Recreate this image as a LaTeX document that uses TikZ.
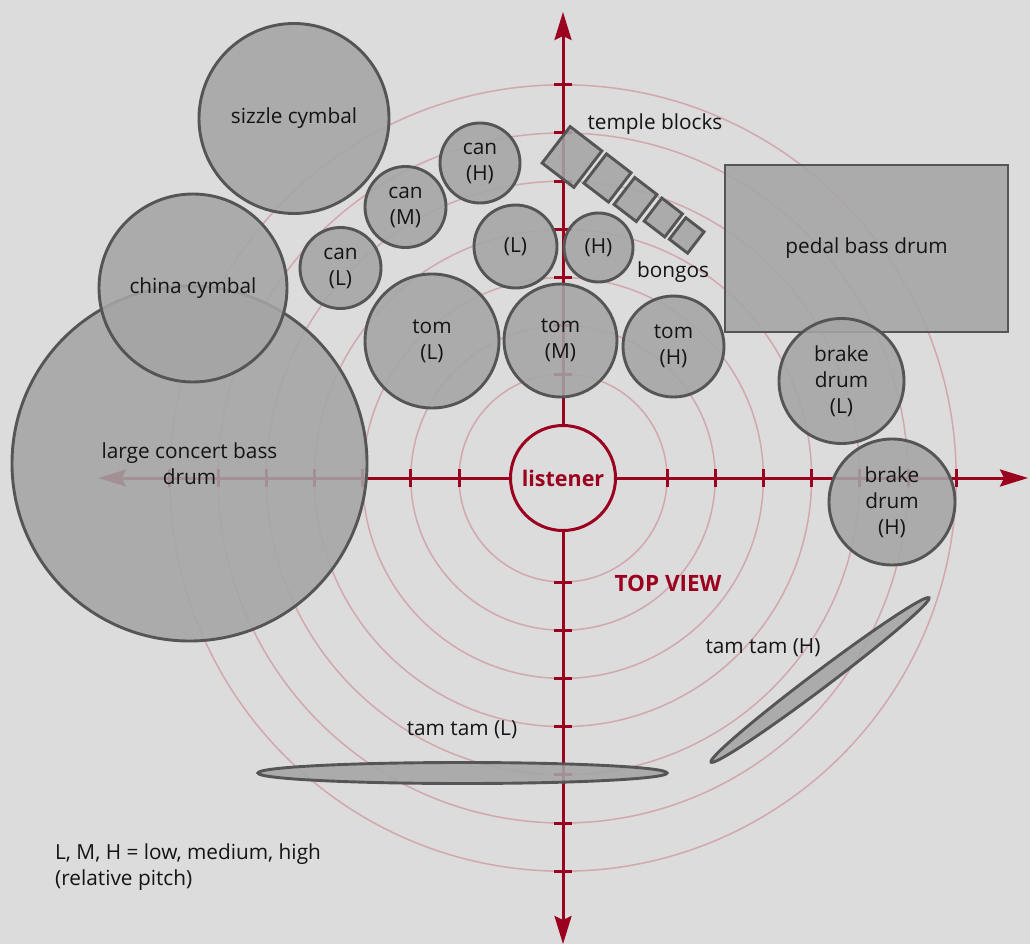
\documentclass[tikz,border=0pt]{standalone}
\usepackage{fontspec}
\setmainfont{Open Sans}
\usetikzlibrary{arrows.meta,shapes.geometric}
\definecolor{bg}{RGB}{220,220,220}
\definecolor{axred}{RGB}{155,0,30}
\definecolor{ringc}{RGB}{208,168,174}
\definecolor{drumfill}{RGB}{165,165,165}
\definecolor{drumline}{RGB}{85,85,85}
\definecolor{txt}{RGB}{20,20,20}
\begin{document}
\begin{tikzpicture}[x=1pt,y=-1pt,
  lbl/.style={text=txt, align=center, inner sep=0pt, font=\fontsize{20.8}{26}\selectfont},
  drum/.style={lbl, draw=drumline, line width=2.9pt, fill=drumfill, fill opacity=0.88, text opacity=1},
  drumc/.style={drum, circle, minimum size=#1},
  block/.style={drum, rectangle, rotate=-37.5},
  ring/.style={draw=ringc, line width=1.5pt},
  axis/.style={draw=axred, line width=3pt, -{Stealth[length=28pt,width=17pt,inset=4pt]}},
  tickmark/.style={draw=axred, line width=3pt},
  listen/.style={circle, draw=axred, line width=3pt, fill=bg, minimum size=105, text=axred, font=\fontsize{21.5}{24}\selectfont\bfseries, inner sep=0pt},
]
\useasboundingbox[fill=bg] (0,0) rectangle (1030,944);
\coordinate (O) at (563,478);
% rings
\foreach \k in {0,...,6}{
  \draw[ring] (O) circle[radius={104+48.2*\k}];
}
% listener and axes
\node[listen] (listener) at (O) {listener};
\coordinate (axR) at (1028,478);
\coordinate (axL) at (98,478);
\coordinate (axT) at (563,12);
\coordinate (axB) at (563,944);
\draw[axis] (listener) -- (axR);
\draw[axis] (listener) -- (axL);
\draw[axis] (listener) -- (axT);
\draw[axis] (listener) -- (axB);
\foreach \k in {0,...,6}{
  \draw[tickmark] ({563+104+48.2*\k},469) -- ({563+104+48.2*\k},487);
  \draw[tickmark] ({563-104-48.2*\k},469) -- ({563-104-48.2*\k},487);
  \draw[tickmark] (554,{478-104-48.2*\k}) -- (572,{478-104-48.2*\k});
  \draw[tickmark] (554,{478+104+48.2*\k}) -- (572,{478+104+48.2*\k});
}
% drums
\node[drumc=355] (bass) at (189.5,463.5) {large concert bass\\drum};
\node[drumc=190] (sizzle) at (294,118.5) {sizzle cymbal};
\node[drumc=188] (china) at (193,288) {china cymbal};
\node[drumc=81] (canL) at (340.5,268) {can\\(L)};
\node[drumc=81] (canM) at (405.5,207) {can\\(M)};
\node[drumc=80] (canH) at (480,163) {can\\(H)};
\node[drumc=83] (bongoL) at (515.5,246.5) {(L)};
\node[drumc=69] (bongoH) at (598.5,247.5) {(H)};
\node[drumc=134] (tomL) at (432,341) {tom\\(L)};
\node[drumc=113] (tomM) at (560.5,340.5) {tom\\(M)};
\node[drumc=101] (tomH) at (673.5,346.5) {tom\\(H)};
\node[drum, rectangle, minimum width=283, minimum height=167] (pedal) at (866.5,248.5) {pedal bass drum};
\node[drumc=125] (brakeL) at (841.5,381) {brake\\drum\\(L)};
\node[drumc=126] (brakeH) at (892,502) {brake\\drum\\(H)};
\node[block, minimum width=40, minimum height=46] (tb1) at (572,157) {};
\node[block, minimum width=31, minimum height=37] (tb2) at (607.5,178) {};
\node[block, minimum width=28, minimum height=34] (tb3) at (635.5,199.5) {};
\node[block, minimum width=26, minimum height=29] (tb4) at (663.3,217.5) {};
\node[block, minimum width=23, minimum height=27] (tb5) at (686.7,235.5) {};
\node[drum, ellipse, minimum width=409, minimum height=21] (tamL) at (462.5,773) {};
\node[drum, ellipse, minimum width=273, minimum height=17, rotate=37] (tamH) at (820,680) {};
% labels
\node[lbl] (tbl) at (655,124) {temple blocks};
\node[lbl] (bgl) at (673,272) {bongos};
\node[lbl] (tamLl) at (462,730) {tam tam (L)};
\node[lbl] (tamHl) at (763,648) {tam tam (H)};
\node[lbl, text=axred, font=\fontsize{22.5}{24}\selectfont\bfseries] (top) at (668,583) {TOP VIEW};
\node[lbl, anchor=west, align=left] (legend) at (55,867) {L, M, H = low, medium, high\\(relative pitch)};
\end{tikzpicture}
\end{document}
